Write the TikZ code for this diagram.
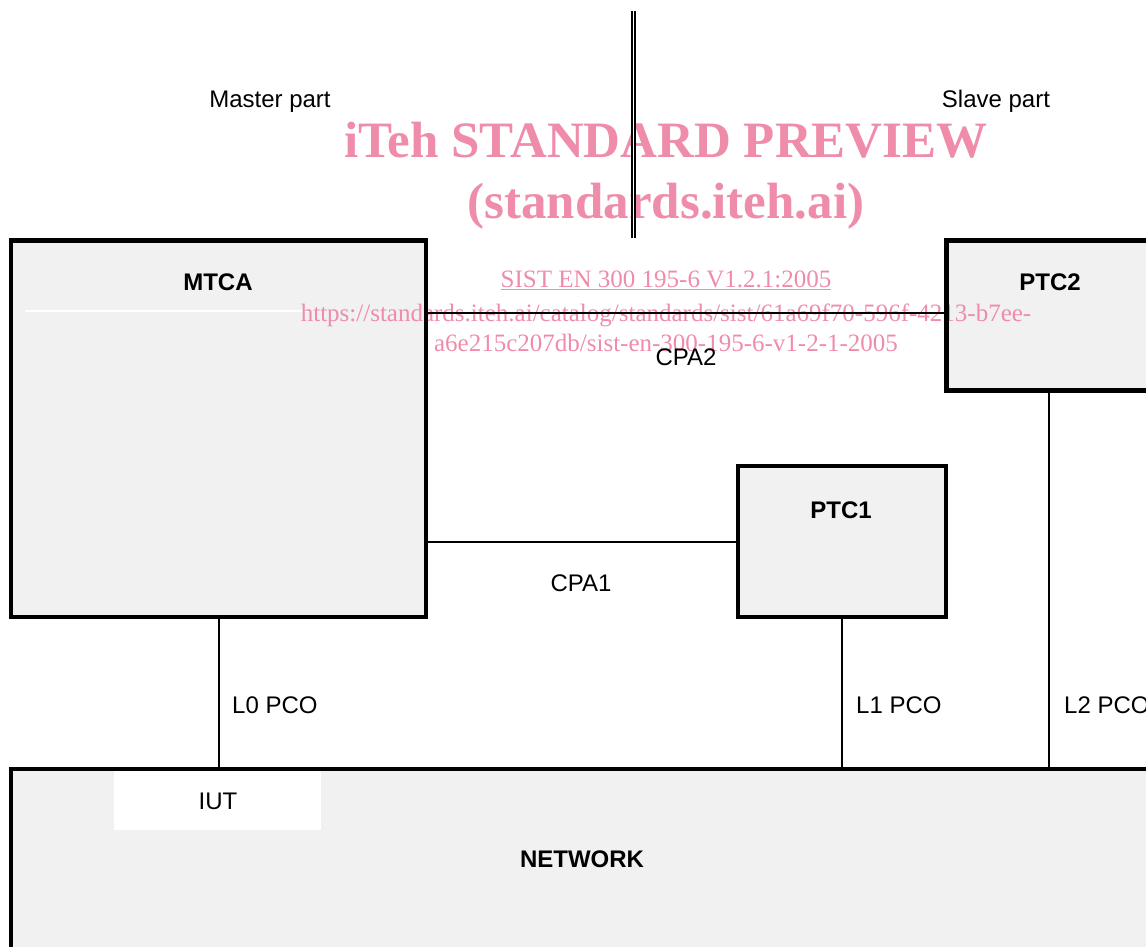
\documentclass[tikz,border=0pt]{standalone}
\usepackage{fontspec}
\setmainfont{Liberation Sans}
\newfontfamily\wmfont{Liberation Serif}
\definecolor{boxfill}{RGB}{241,241,241}
\definecolor{wmpink}{RGB}{238,140,170}
\begin{document}
\begin{tikzpicture}[x=1pt,y=-1pt,
  boxarea/.style={rectangle, fill=boxfill, draw=none, inner sep=0pt, outer sep=0pt},
  border/.style={line width=4.3pt},
  wire/.style={line width=2pt},
  lbl/.style={font=\fontsize{24}{28}\selectfont, inner sep=0pt, anchor=base},
  blbl/.style={lbl, font=\fontsize{24}{28}\selectfont\bfseries},
  wmbig/.style={font=\wmfont\fontsize{51}{60}\selectfont\bfseries, text=wmpink, inner sep=0pt, anchor=base},
  wmsmall/.style={font=\wmfont\fontsize{25}{30}\selectfont, text=wmpink, inner sep=0pt, anchor=base}]
\useasboundingbox (0,0) rectangle (1146,946);
\clip (0,0) rectangle (1146,946);

% box areas
\node[boxarea, minimum width=415pt, minimum height=376.5pt] (mtca) at (218.5,428.75) {};
\node[boxarea, minimum width=205pt, minimum height=150pt] (ptc2) at (1049,315.5) {};
\node[boxarea, minimum width=208pt, minimum height=151pt] (ptc1) at (842,541.5) {};
\node[boxarea, minimum width=1149pt, minimum height=191.4pt] (net) at (585.5,864.95) {};
\node[rectangle, fill=white, inner sep=0pt, outer sep=0pt, minimum width=207pt, minimum height=59pt] (iutbox) at (217.5,800.5) {};

% white artefact line
\draw[white, line width=2pt] (25,311) -- (310,311);

% watermark
\node[wmbig] (wm1) at (666,157) {iTeh STANDARD PREVIEW};
\node[wmbig] (wm2) at (666,218) {(standards.iteh.ai)};
\node[wmsmall] (wm3) at (666,287) {\underline{SIST EN 300 195-6 V1.2.1:2005}};
\node[wmsmall] (wm4) at (666,321) {https://standards.iteh.ai/catalog/standards/sist/61a69f70-596f-4213-b7ee-};
\node[wmsmall] (wm5) at (666,351.5) {a6e215c207db/sist-en-300-195-6-v1-2-1-2005};

% borders
\draw[border] (mtca.north west) rectangle (mtca.south east);
\draw[border] (ptc2.north west) rectangle (ptc2.south east);
\draw[border] (ptc1.north west) rectangle (ptc1.south east);
\draw[border] (net.north west) rectangle (net.south east);

% connectors
\coordinate (cpa2y) at (0,313);
\draw[wire] (mtca.east |- cpa2y) -- (ptc2.west |- cpa2y);
\draw[wire] (mtca.east |- ptc1.west) -- (ptc1.west);
\draw[wire] (mtca.south) -- (mtca.south |- net.north);
\draw[wire] (ptc1.south) -- (ptc1.south |- net.north);
\draw[wire] (ptc2.south) -- (ptc2.south |- net.north);

% divider
\coordinate (divtop) at (633.2,11);
\coordinate (divbot) at (633.2,237.5);
\draw[line width=1.7pt, double=white, double distance=1.3pt] (divtop) -- (divbot);

% labels
\node[lbl] (master) at (270,107.5) {Master part};
\node[lbl] (slave) at (996,107.5) {Slave part};
\node[blbl] (mtcal) at (218,290) {MTCA};
\node[blbl] (ptc2l) at (1050,290) {PTC2};
\node[blbl] (ptc1l) at (841,518) {PTC1};
\node[lbl] (cpa2l) at (686,365.5) {CPA2};
\node[lbl] (cpa1l) at (581,591.5) {CPA1};
\node[lbl, anchor=base west] (l0) at (232,713.5) {L0 PCO};
\node[lbl, anchor=base west] (l1) at (856,713.5) {L1 PCO};
\node[lbl, anchor=base west] (l2) at (1064,713.5) {L2 PCO};
\node[lbl] (iut) at (218,809) {IUT};
\node[blbl] (netl) at (582,867.5) {NETWORK};
\end{tikzpicture}
\end{document}
